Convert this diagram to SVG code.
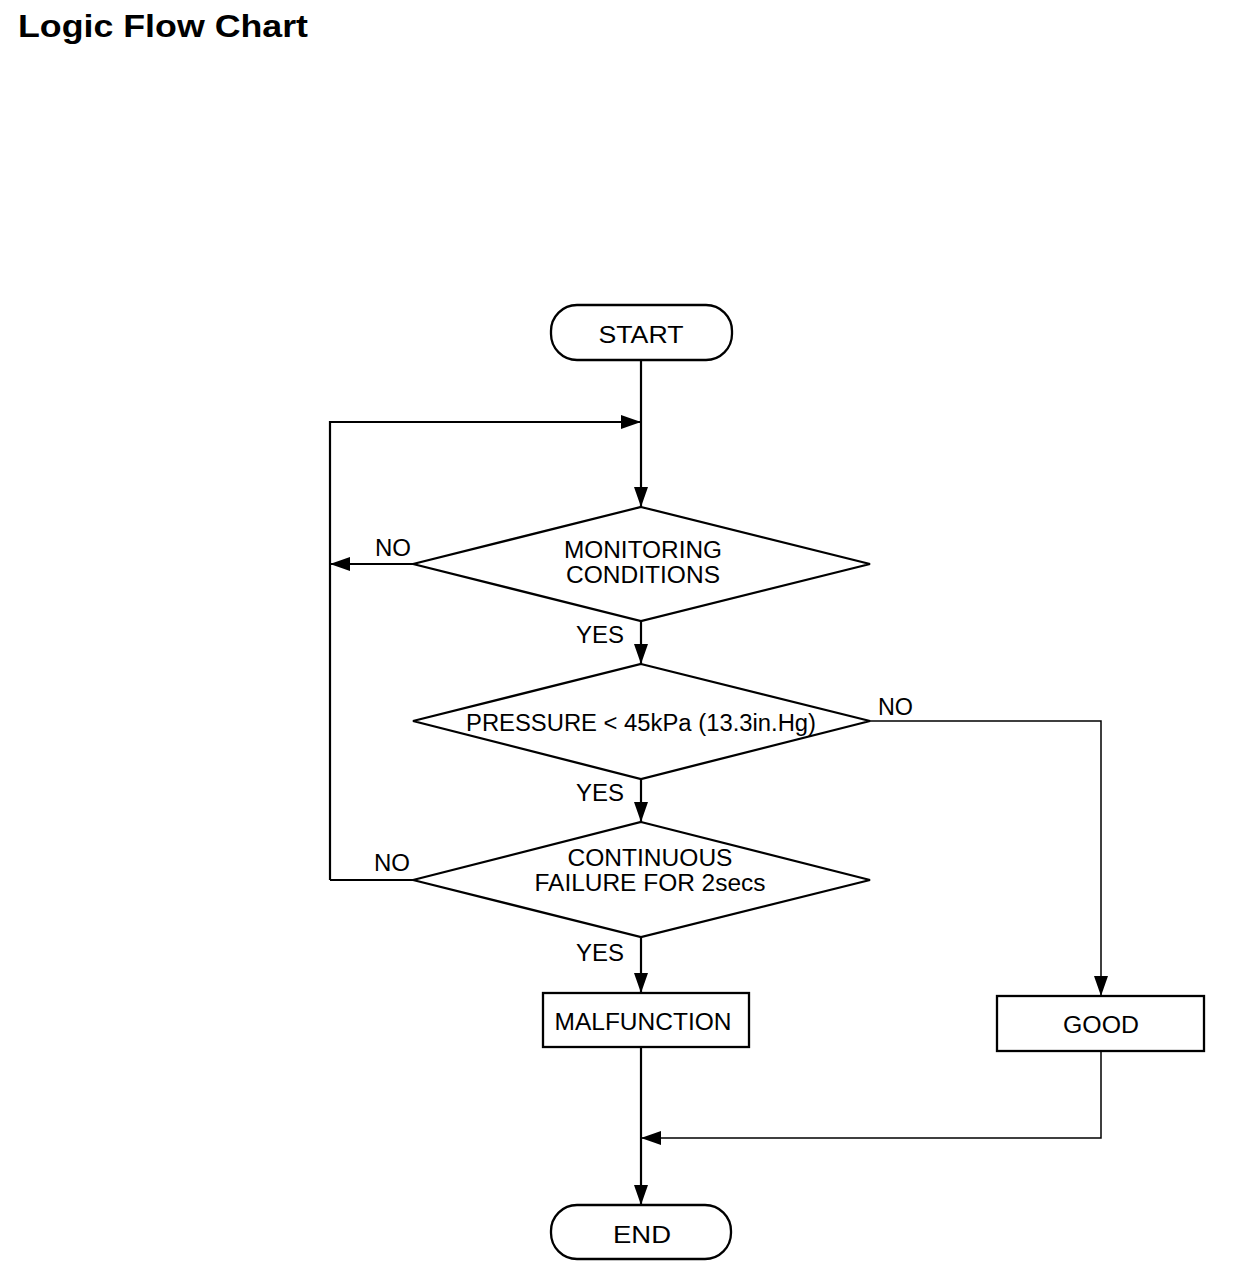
<svg xmlns="http://www.w3.org/2000/svg" width="1248" height="1276" viewBox="0 0 1248 1276">
<style>
.t{font-family:"Liberation Sans",Arial,sans-serif;font-size:23px;fill:#000}
.shape{fill:#fff;stroke:#000;stroke-width:2.3}
.ln{fill:none;stroke:#000;stroke-width:2.2}
.thin{fill:none;stroke:#000;stroke-width:1.5}
</style>
<defs>
<marker id="ah" markerUnits="userSpaceOnUse" markerWidth="20" markerHeight="14" refX="20" refY="7" orient="auto">
<path d="M0,0 L20,7 L0,14 Z" fill="#000"/>
</marker>
</defs>
<rect width="1248" height="1276" fill="#fff"/>
<text x="18" y="37" font-family="Liberation Sans,Arial,sans-serif" font-weight="bold" font-size="31" textLength="290" lengthAdjust="spacingAndGlyphs">Logic Flow Chart</text>

<g id="connectors">
<line class="ln" x1="641" y1="360" x2="641" y2="507" marker-end="url(#ah)"/>
<polyline class="ln" points="330,880 330,422 641,422" marker-end="url(#ah)"/>
<line class="ln" x1="413" y1="564" x2="330" y2="564" marker-end="url(#ah)"/>
<line class="ln" x1="641" y1="621" x2="641" y2="664" marker-end="url(#ah)"/>
<line class="ln" x1="641" y1="779" x2="641" y2="822" marker-end="url(#ah)"/>
<line class="ln" x1="413" y1="880" x2="330" y2="880"/>
<line class="ln" x1="641" y1="937" x2="641" y2="993" marker-end="url(#ah)"/>
<polyline class="thin" points="870,721 1101,721 1101,996" marker-end="url(#ah)"/>
<polyline class="thin" points="1101,1051 1101,1138 641,1138" marker-end="url(#ah)"/>
<line class="ln" x1="641" y1="1047" x2="641" y2="1205" marker-end="url(#ah)"/>
<text class="t" x="375" y="556" textLength="36" lengthAdjust="spacingAndGlyphs">NO</text>
<text class="t" x="576" y="643" textLength="48" lengthAdjust="spacingAndGlyphs">YES</text>
<text class="t" x="878" y="715" textLength="35" lengthAdjust="spacingAndGlyphs">NO</text>
<text class="t" x="576" y="801" textLength="48" lengthAdjust="spacingAndGlyphs">YES</text>
<text class="t" x="374" y="871" textLength="36" lengthAdjust="spacingAndGlyphs">NO</text>
<text class="t" x="576" y="961" textLength="48" lengthAdjust="spacingAndGlyphs">YES</text>
</g>

<g id="start">
<rect class="shape" x="551" y="305" width="181" height="55" rx="26" ry="26"/>
<text class="t" x="641" y="343" font-size="25" text-anchor="middle" textLength="85" lengthAdjust="spacingAndGlyphs">START</text>
</g>

<g id="monitoring">
<polygon class="shape" points="641,507 870,564 641,621 413,564"/>
<text class="t" x="643" y="558" text-anchor="middle" textLength="158" lengthAdjust="spacingAndGlyphs">MONITORING</text>
<text class="t" x="643" y="583" text-anchor="middle" textLength="154" lengthAdjust="spacingAndGlyphs">CONDITIONS</text>
</g>

<g id="pressure">
<polygon class="shape" points="641,664 870,721 641,779 413,721"/>
<text class="t" x="641" y="731" text-anchor="middle" textLength="350" lengthAdjust="spacingAndGlyphs">PRESSURE &lt; 45kPa (13.3in.Hg)</text>
</g>

<g id="continuous">
<polygon class="shape" points="641,822 870,880 641,937 413,880"/>
<text class="t" x="650" y="866" text-anchor="middle" textLength="165" lengthAdjust="spacingAndGlyphs">CONTINUOUS</text>
<text class="t" x="650" y="891" text-anchor="middle" textLength="231" lengthAdjust="spacingAndGlyphs">FAILURE FOR 2secs</text>
</g>

<g id="malfunction">
<rect class="shape" x="543" y="993" width="206" height="54"/>
<text class="t" x="643" y="1030" text-anchor="middle" textLength="177" lengthAdjust="spacingAndGlyphs">MALFUNCTION</text>
</g>

<g id="good">
<rect class="shape" x="997" y="996" width="207" height="55"/>
<text class="t" x="1101" y="1033" text-anchor="middle" textLength="76" lengthAdjust="spacingAndGlyphs">GOOD</text>
</g>

<g id="end">
<rect class="shape" x="551" y="1205" width="180" height="54" rx="26" ry="26"/>
<text class="t" x="642" y="1243" font-size="25" text-anchor="middle" textLength="58" lengthAdjust="spacingAndGlyphs">END</text>
</g>
</svg>
